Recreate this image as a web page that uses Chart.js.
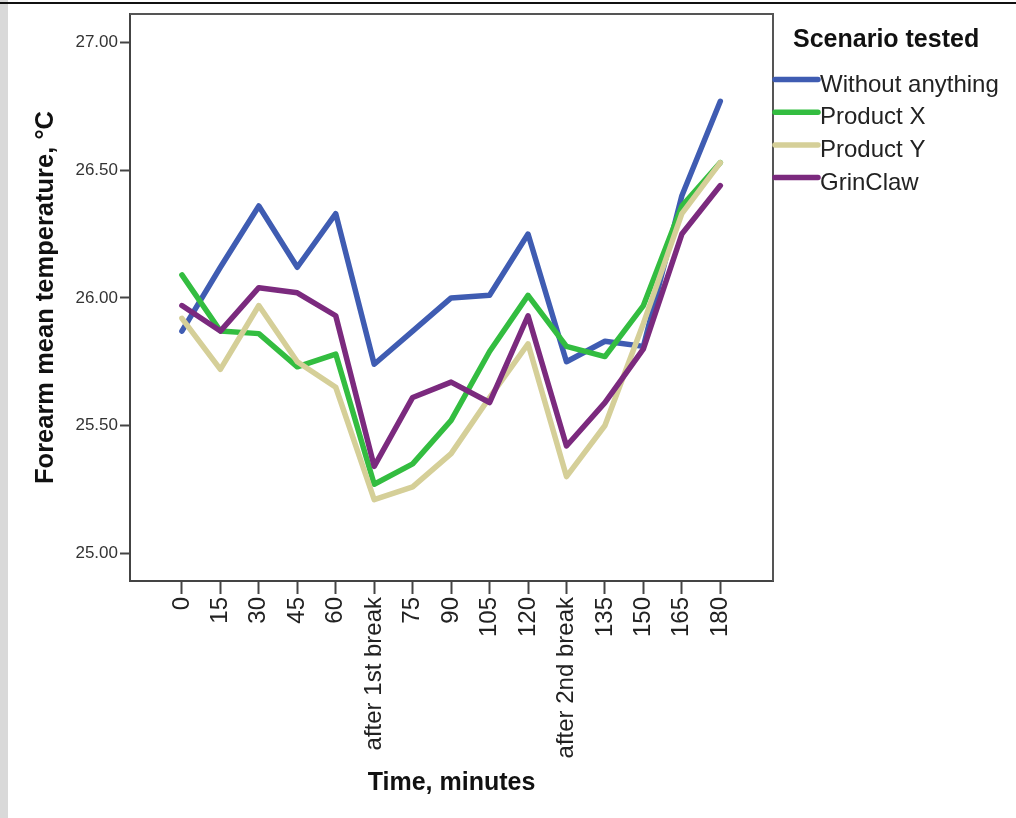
<!DOCTYPE html>
<html>
<head>
<meta charset="utf-8">
<script src="https://cdn.jsdelivr.net/npm/chart.js@4.4.1/dist/chart.umd.min.js"></script>
<style>
  body { margin: 0; background: #fff; }
  #wrap { position: relative; width: 1016px; height: 818px; }
  #side { position: absolute; left: 0; top: 0; width: 8px; height: 818px; background: #d9d9d9; }
  #topline { position: absolute; left: 0; top: 2px; width: 1016px; height: 2px; background: #111; }
</style>
</head>
<body>
<div id="wrap">
  <canvas id="grafico-temperatura" width="1016" height="818"></canvas>
  <div id="side"></div>
  <div id="topline"></div>
</div>
<script>
const timeLabels = ['0', '15', '30', '45', '60', 'after 1st break', '75', '90', '105', '120', 'after 2nd break', '135', '150', '165', '180'];
const yTicks = [25.0, 25.5, 26.0, 26.5, 27.0];

const withoutAnything = [25.87, 26.12, 26.36, 26.12, 26.33, 25.74, 25.87, 26.00, 26.01, 26.25, 25.75, 25.83, 25.81, 26.40, 26.77];
const productX = [26.09, 25.87, 25.86, 25.73, 25.78, 25.27, 25.35, 25.52, 25.79, 26.01, 25.81, 25.77, 25.97, 26.36, 26.53];
const productY = [25.92, 25.72, 25.97, 25.75, 25.65, 25.21, 25.26, 25.39, 25.61, 25.82, 25.30, 25.50, 25.90, 26.33, 26.53];
const grinClaw = [25.97, 25.87, 26.04, 26.02, 25.93, 25.34, 25.61, 25.67, 25.59, 25.93, 25.42, 25.59, 25.80, 26.25, 26.44];

const seriesNames = ['Without anything', 'Product X', 'Product Y', 'GrinClaw'];
const seriesColors = ['#3f5cb2', '#33bd40', '#d5cf98', '#7b2a7e'];
const seriesData = [withoutAnything, productX, productY, grinClaw];

const fonte = "'Liberation Sans', Arial, sans-serif";

// frame on top and right of the plot area
const moldura = {
  id: 'moldura',
  afterDraw(chart) {
    const { ctx, chartArea } = chart;
    ctx.save();
    ctx.strokeStyle = '#555';
    ctx.lineWidth = 2;
    ctx.beginPath();
    ctx.moveTo(chartArea.left, chartArea.top);
    ctx.lineTo(chartArea.right, chartArea.top);
    ctx.lineTo(chartArea.right, chartArea.bottom);
    ctx.stroke();
    ctx.restore();
  },
};

// legend with title drawn to the right of the plot
const legenda = {
  id: 'legenda',
  afterDraw(chart) {
    const { ctx, chartArea } = chart;
    const x0 = chartArea.right;
    ctx.save();
    ctx.fillStyle = '#111';
    ctx.font = `bold 25px ${fonte}`;
    ctx.textBaseline = 'alphabetic';
    ctx.fillText('Scenario tested', x0 + 20, 47);

    ctx.font = `24px ${fonte}`;
    chart.data.datasets.forEach((ds, i) => {
      const y = 79.5 + i * 32.7;
      ctx.strokeStyle = ds.borderColor;
      ctx.lineWidth = 5.5;
      ctx.lineCap = 'round';
      ctx.beginPath();
      ctx.moveTo(x0 + 2, y);
      ctx.lineTo(x0 + 45, y);
      ctx.stroke();
      ctx.fillStyle = '#222';
      ctx.fillText(ds.label, x0 + 47, y + 12);
    });
    ctx.restore();
  },
};

const datasets = seriesData.map((valores, index) => {
  return {
    label: seriesNames[index],
    data: valores.map((v, i) => ({ x: i, y: v })),
    borderColor: seriesColors[index],
    backgroundColor: seriesColors[index],
    borderWidth: 5.5,
    borderJoinStyle: 'round',
    borderCapStyle: 'round',
    pointRadius: 0,
    tension: 0,
    fill: false,
    order: seriesData.length - 1 - index,
  };
});

new Chart(document.getElementById('grafico-temperatura').getContext('2d'), {
  type: 'line',
  data: { datasets: datasets },
  options: {
    responsive: false,
    animation: false,
    events: [],
    layout: {
      padding: { top: 14, right: 243, bottom: 0, left: 0 },
    },
    plugins: {
      legend: { display: false },
      tooltip: { enabled: false },
    },
    scales: {
      x: {
        type: 'linear',
        min: -1.35,
        max: 15.37,
        afterBuildTicks: (scale) => {
          scale.ticks = timeLabels.map((l, i) => ({ value: i }));
        },
        afterFit: (scale) => {
          scale.height = 237;
        },
        ticks: {
          autoSkip: false,
          minRotation: 90,
          maxRotation: 90,
          padding: 3,
          color: '#222',
          font: { family: fonte, size: 24 },
          callback: (value) => timeLabels[value],
        },
        grid: {
          display: true,
          drawOnChartArea: false,
          drawTicks: true,
          tickLength: 13,
          tickWidth: 2,
          tickColor: '#444',
        },
        border: { display: true, color: '#444', width: 2 },
        title: {
          display: true,
          text: 'Time, minutes',
          color: '#111',
          font: { family: fonte, size: 25, weight: 'bold' },
          padding: { top: 0, bottom: 20 },
        },
      },
      y: {
        min: 24.891,
        max: 27.112,
        afterBuildTicks: (scale) => {
          scale.ticks = yTicks.map((v) => ({ value: v }));
        },
        afterFit: (scale) => {
          scale.width = 130;
        },
        ticks: {
          padding: 2,
          color: '#333',
          font: { family: fonte, size: 17 },
          callback: (value) => Number(value).toFixed(2),
        },
        grid: {
          display: true,
          drawOnChartArea: false,
          drawTicks: true,
          tickLength: 10,
          tickWidth: 2,
          tickColor: '#444',
        },
        border: { display: true, color: '#444', width: 2 },
        title: {
          display: true,
          text: 'Forearm mean temperature, °C',
          color: '#111',
          font: { family: fonte, size: 25.5, weight: 'bold' },
          padding: { top: 31, bottom: 0 },
        },
      },
    },
  },
  plugins: [moldura, legenda],
});
</script>
</body>
</html>
